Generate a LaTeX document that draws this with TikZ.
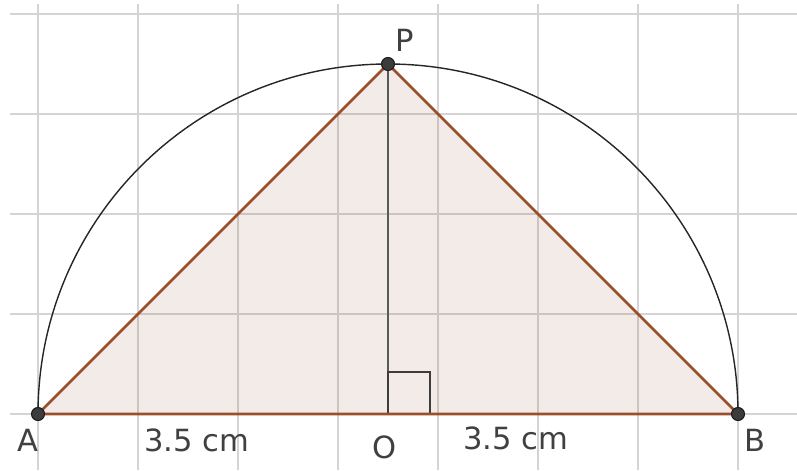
\documentclass[tikz,border=0pt]{standalone}
\usepackage{fontspec}
\setmainfont{DejaVu Sans}
\usetikzlibrary{positioning,calc}
\definecolor{edgebrown}{RGB}{153,78,44}
\definecolor{gridgray}{RGB}{212,212,212}
\definecolor{inkgray}{RGB}{60,60,60}

\begin{document}
\begin{tikzpicture}[x=1cm, y=1cm,
    pt/.style={circle, fill=inkgray, draw=black!90, line width=0.3pt, inner sep=0pt, minimum size=0.13cm},
    lbl/.style={font=\fontsize{8.7}{10}\selectfont, text=black!75, inner sep=0pt}]
    \useasboundingbox (-0.38,-0.56) rectangle (7.59,4.14);

    % grid
    \foreach \x in {0,...,7}
        \draw[gridgray, line width=0.02cm] (\x,-0.56) -- (\x,4.10);
    \foreach \y in {0,...,4}
        \draw[gridgray, line width=0.02cm] (-0.28,\y) -- (7.59,\y);

    \coordinate (A) at (0,0);
    \coordinate (B) at (7,0);
    \coordinate (O) at (3.5,0);
    \coordinate (P) at (3.5,3.5);

    % triangle and semicircle
    \fill[edgebrown, fill opacity=0.115] (A) -- (B) -- (P) -- cycle;
    \draw[black!85, line width=0.4pt] (A) arc[start angle=180, end angle=0, radius=3.5];
    \draw[inkgray!85, line width=0.65pt] (P) -- (O);
    \draw[inkgray, line width=0.5pt] (O) rectangle ($(O)+(0.42,0.42)$);
    \draw[edgebrown, line width=0.75pt] (A) -- (B) -- (P) -- cycle;

    \node[pt] (dotA) at (A) {};
    \node[pt] (dotB) at (B) {};
    \node[pt] (dotP) at (P) {};

    % labels
    \node[lbl] (labA) at (-0.10,-0.26) {A};
    \node[lbl] (labB) at (7.17,-0.26) {B};
    \node[lbl] (labO) at (3.47,-0.33) {O};
    \node[lbl] (labP) at (3.67,3.74) {P};
    \node[lbl] (lenAO) at (1.59,-0.26) {3.5 cm};
    \node[lbl] (lenOB) at (4.78,-0.24) {3.5 cm};
\end{tikzpicture}
\end{document}
